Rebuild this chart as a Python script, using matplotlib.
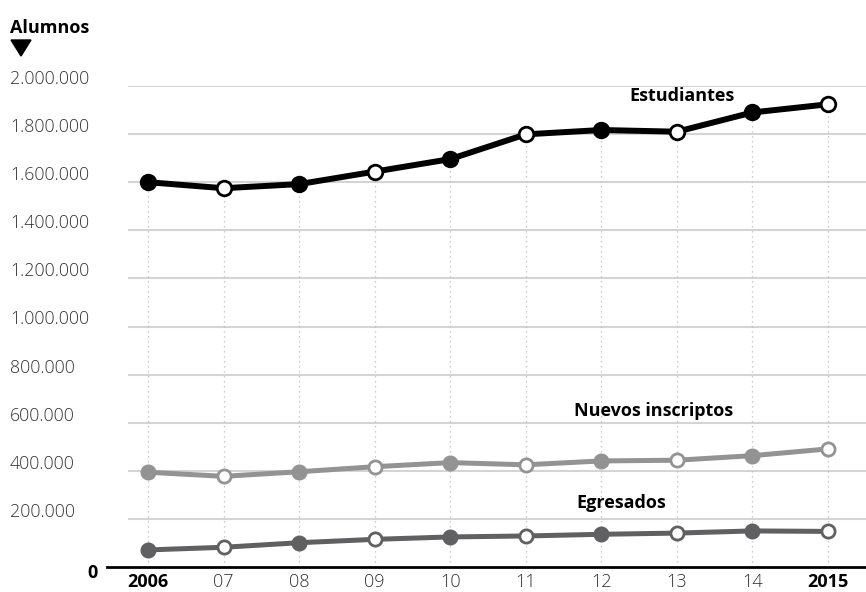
import matplotlib
matplotlib.use("Agg")
import matplotlib.pyplot as plt
import matplotlib.patches as patches

years = ["2006", "07", "08", "09", "10", "11", "12", "13", "14", "2015"]
estudiantes = [1600000, 1575000, 1592000, 1644000, 1696000, 1799000, 1817000, 1810000, 1890000, 1924000]
nuevos = [394000, 377000, 396000, 417000, 434000, 425000, 441000, 444000, 463000, 491000]
egresados = [71000, 82000, 101000, 115000, 125000, 129000, 136000, 141000, 150000, 148000]
yticks = [200000, 400000, 600000, 800000, 1000000, 1200000, 1400000, 1600000, 1800000, 2000000]

FONT = ["Open Sans", "DejaVu Sans"]
plt.rcParams["font.family"] = FONT

W, H = 866, 592
fig = plt.figure(figsize=(W / 100, H / 100), dpi=100)

# axes: left edge at the zero line start, bottom at the zero line, top at 2.000.000
left, bottom, top = 107, 567, 86
ax = fig.add_axes([left / W, (H - bottom) / H, (W - left) / W, (bottom - top) / H])
ax.set_xlim(-0.543, 9.503)
ax.set_ylim(0, 2000000)
ax.axis("off")

x = list(range(len(years)))

# grid lines
ax.hlines(yticks, -0.27, 9.503, color="#d4d4d4", linewidth=1.5, zorder=1)
ax.axhline(0, color="black", linewidth=2, zorder=2, clip_on=False)
ax.vlines(x, 0, estudiantes, color="#bdbdbd", linestyles=(0, (1, 3)), linewidth=0.9, zorder=1)

series = [
    (estudiantes, "#000000", 4.3, 10.5),
    (nuevos, "#939393", 3.6, 9.5),
    (egresados, "#606063", 3.6, 9.5),
]
for vals, col, lw, ms in series:
    ax.plot(x, vals, color=col, linewidth=lw, zorder=3, solid_capstyle="round", clip_on=False)
    for i, v in enumerate(vals):
        face = col if i % 2 == 0 else "white"
        ax.plot(i, v, marker="o", markersize=ms, markerfacecolor=face,
                markeredgecolor=col, markeredgewidth=2, zorder=4, clip_on=False)

# series labels
ax.text(7.07, 1960000, "Estudiantes", fontsize=13, fontweight="bold", ha="center", va="center")
ax.text(6.69, 650000, "Nuevos inscriptos", fontsize=13, fontweight="bold", ha="center", va="center")
ax.text(6.27, 268000, "Egresados", fontsize=13, fontweight="bold", ha="center", va="center")

# y tick labels, above the grid lines at the left edge
for v in yticks:
    label = f"{v:,}".replace(",", ".")
    ypix = bottom - v / 2000000 * (bottom - top) - 7
    fig.text(10 / W, 1 - ypix / H, label, fontsize=12.8, color="#333333",
             ha="left", va="center", fontweight="light")
fig.text(98 / W, 1 - 573 / H, "0", fontsize=13, fontweight="bold", ha="right", va="center")

# x tick labels
for i, yr in enumerate(years):
    bold = yr in ("2006", "2015")
    ax.text(i, -62000, yr, fontsize=13, ha="center", va="center",
            color="black" if bold else "#333333",
            fontweight="bold" if bold else "light", clip_on=False)

# title and arrow
fig.text(10 / W, 1 - 28 / H, "Alumnos", fontsize=13, fontweight="bold", ha="left", va="center")
tri = patches.Polygon([(11 / W, 1 - 40 / H), (31 / W, 1 - 40 / H), (21 / W, 1 - 56 / H)],
                      closed=True, transform=fig.transFigure, color="black")
fig.patches.append(tri)

fig.savefig("out.png", dpi=100)
